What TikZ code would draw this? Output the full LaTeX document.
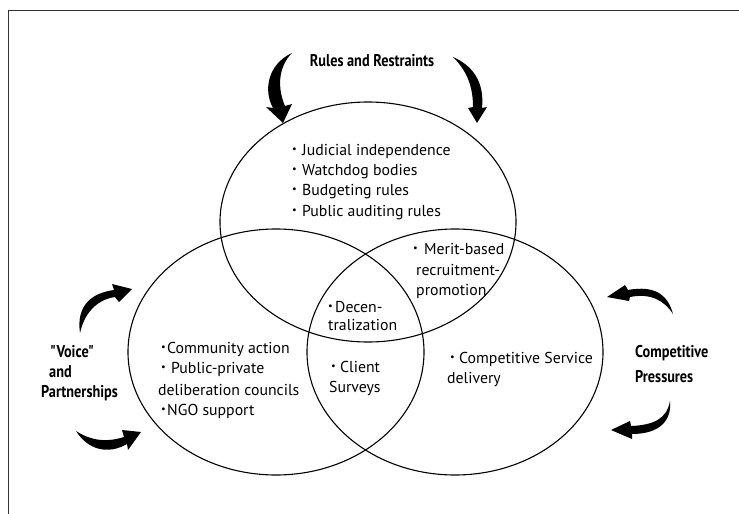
\documentclass[tikz,border=0pt]{standalone}
\usepackage{fontspec}
\setmainfont{PT Sans}
\newfontfamily\labfont[FakeStretch=0.84]{PT Sans}
\newcommand\bul[1]{\makebox[#1pt][l]{\raisebox{.3ex}{\scalebox{.65}{\textbullet}}}}
\begin{document}
\begin{tikzpicture}[x=1pt,y=-1pt,
  txt/.style={inner sep=0pt,anchor=base west,font=\fontsize{15.8}{18}\selectfont},
  lab/.style={inner sep=0pt,anchor=base west,font=\labfont\bfseries\fontsize{17}{18}\selectfont},
  ring/.style={draw=black,line width=1.1pt},
  frame/.style={draw=black!80,line width=1.3pt},
  fatarrow/.style={fill=black,draw=none}]
\useasboundingbox (0,0) rectangle (739,514);
% frame
\draw[frame] (8.5,514) -- (8.5,10.5) -- (739,10.5);
% ellipses
\draw[ring] (368,222) ellipse [x radius=148, y radius=120];
\draw[ring] (276,352) ellipse [x radius=148, y radius=123];
\draw[ring] (455,352) ellipse [x radius=148, y radius=123];
% arrows
\fill[fatarrow] (292,53) .. controls (268,64) and (263,90) .. (273,108) -- (266,107) -- (283,123) -- (292,104) -- (285,106) .. controls (278,90) and (277,68) .. (292,53) -- cycle;
\fill[fatarrow] (453,57) .. controls (478,68) and (484,88) .. (482,108) -- (487,107) -- (477,123) -- (468,108) -- (473,107) .. controls (473,88) and (468,72) .. (453,57) -- cycle;
\fill[fatarrow] (80,333) .. controls (76,305) and (92,293) .. (114,290) -- (112,284) -- (132,289) -- (119,302) -- (115,297) .. controls (95,300) and (84,315) .. (80,333) -- cycle;
\fill[fatarrow] (76,431) .. controls (90,440) and (105,443) .. (124,437) -- (122,430) -- (141,432) -- (128,450) -- (127,444) .. controls (108,455) and (88,450) .. (76,431) -- cycle;
\fill[fatarrow] (673,314) .. controls (668,295) and (655,285) .. (628,290) -- (625,285) -- (607,297) -- (629,301) -- (630,297) .. controls (650,293) and (664,300) .. (673,314) -- cycle;
\fill[fatarrow] (670,401) .. controls (667,418) and (655,425) .. (631,426) -- (630,421) -- (611,430) -- (632,439) -- (632,434) .. controls (660,434) and (672,420) .. (670,401) -- cycle;
% labels
\node[lab,anchor=base] (rr) at (372,66) {Rules and Restraints};
\node[lab] (v1) at (50,357) {"Voice"};
\node[lab] (v2) at (49,377) {and};
\node[lab] (v3) at (41,397) {Partnerships};
\node[lab] (c1) at (635,357) {Competitive};
\node[lab] (c2) at (635,382) {Pressures};
% top ellipse
\node[txt] (a1) at (292,155) {\bul{10}Judicial independence};
\node[txt] (a2) at (292,175) {\bul{10}Watchdog bodies};
\node[txt] (a3) at (292,195) {\bul{10}Budgeting rules};
\node[txt] (a4) at (292,216) {\bul{10}Public auditing rules};
% merit
\node[txt] (m1) at (413,254) {\bul{11}Merit-based};
\node[txt] (m2) at (416,275) {recruitment-};
\node[txt] (m3) at (416,295) {promotion};
% centre
\node[txt] (d1) at (328,312) {\bul{7}Decen-};
\node[txt] (d2) at (328,330) {tralization};
\node[txt] (s1) at (331,372) {\bul{9}Client};
\node[txt] (s2) at (329,392) {Surveys};
% left
\node[txt] (l1) at (161,353) {\bul{6}Community action};
\node[txt] (l2) at (161,373) {\bul{10}Public-private};
\node[txt] (l3) at (158,395) {deliberation councils};
\node[txt] (l4) at (161,415) {\bul{6}NGO support};
% right
\node[txt] (r1) at (450,363) {\bul{9}Competitive Service};
\node[txt] (r2) at (447,383) {delivery};
\end{tikzpicture}
\end{document}
